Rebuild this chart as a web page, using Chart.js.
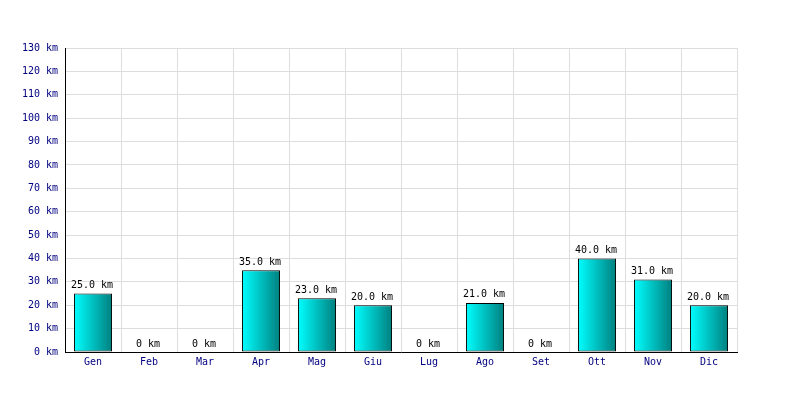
<!DOCTYPE html>
<html>
<head>
<meta charset="utf-8">
<script src="https://cdn.jsdelivr.net/npm/chart.js@4/dist/chart.umd.min.js"></script>
<style>
  html, body { margin: 0; padding: 0; background: #fff; }
  #wrap { width: 800px; height: 400px; }
</style>
</head>
<body>
<div id="wrap"><canvas id="kmChart" width="800" height="400"></canvas></div>
<script>
// Monthly distance (km)
const months = ['Gen', 'Feb', 'Mar', 'Apr', 'Mag', 'Giu', 'Lug', 'Ago', 'Set', 'Ott', 'Nov', 'Dic'];
const kmValues = [25, 0, 0, 35, 23, 20, 0, 21, 0, 40, 31, 20];
const yMax = 130;
const yStep = 10;

const FONT = { family: '"DejaVu Sans Mono", monospace', size: 10 };
const BAR_PCT = 0.68;

function fmtKm(v) {
  return v === 0 ? '0 km' : v.toFixed(1) + ' km';
}

// gradient per bar, cyan on the left to teal on the right
function barGradient(ctx) {
  const chart = ctx.chart;
  const xs = chart.scales.x;
  if (!xs || ctx.dataIndex === undefined) return '#00cccc';
  const cx = xs.getPixelForValue(ctx.dataIndex);
  const half = (xs.width / months.length) * BAR_PCT / 2;
  if (!isFinite(cx) || !isFinite(half) || half <= 0) return '#00cccc';
  const g = chart.ctx.createLinearGradient(cx - half, 0, cx + half, 0);
  g.addColorStop(0, '#00ffff');
  g.addColorStop(1, '#008080');
  return g;
}

// value labels above bars
const valueLabels = {
  id: 'valueLabels',
  afterDatasetsDraw(chart) {
    const c = chart.ctx;
    const meta = chart.getDatasetMeta(0);
    c.save();
    c.font = FONT.size + 'px ' + FONT.family;
    c.fillStyle = '#000';
    c.textAlign = 'center';
    c.textBaseline = 'bottom';
    meta.data.forEach((bar, i) => {
      c.fillText(fmtKm(kmValues[i]), bar.x - 1, bar.y - 3);
    });
    c.restore();
  }
};

new Chart(document.getElementById('kmChart'), {
  type: 'bar',
  data: {
    labels: months,
    datasets: [{
      data: kmValues,
      backgroundColor: barGradient,
      borderColor: '#000',
      borderWidth: 1,
      borderSkipped: false,
      barPercentage: BAR_PCT,
      categoryPercentage: 1
    }]
  },
  options: {
    responsive: false,
    animation: false,
    devicePixelRatio: 1,
    layout: { padding: { top: 48, right: 63, left: 0, bottom: 0 } },
    plugins: { legend: { display: false }, tooltip: { enabled: false } },
    scales: {
      x: {
        offset: true,
        grid: { color: '#dddddd', drawTicks: false, offset: true },
        border: { color: '#000', width: 1 },
        ticks: { color: '#000080', font: FONT, padding: 4 },
        afterFit(s) { s.height = 48; }
      },
      y: {
        min: 0,
        max: yMax,
        grid: { color: '#dddddd', drawTicks: false },
        border: { color: '#000', width: 1 },
        ticks: {
          stepSize: yStep,
          color: '#000080',
          font: FONT,
          padding: 7,
          callback: v => v + ' km'
        },
        afterFit(s) { s.width = 65; }
      }
    }
  },
  plugins: [valueLabels]
});
</script>
</body>
</html>
